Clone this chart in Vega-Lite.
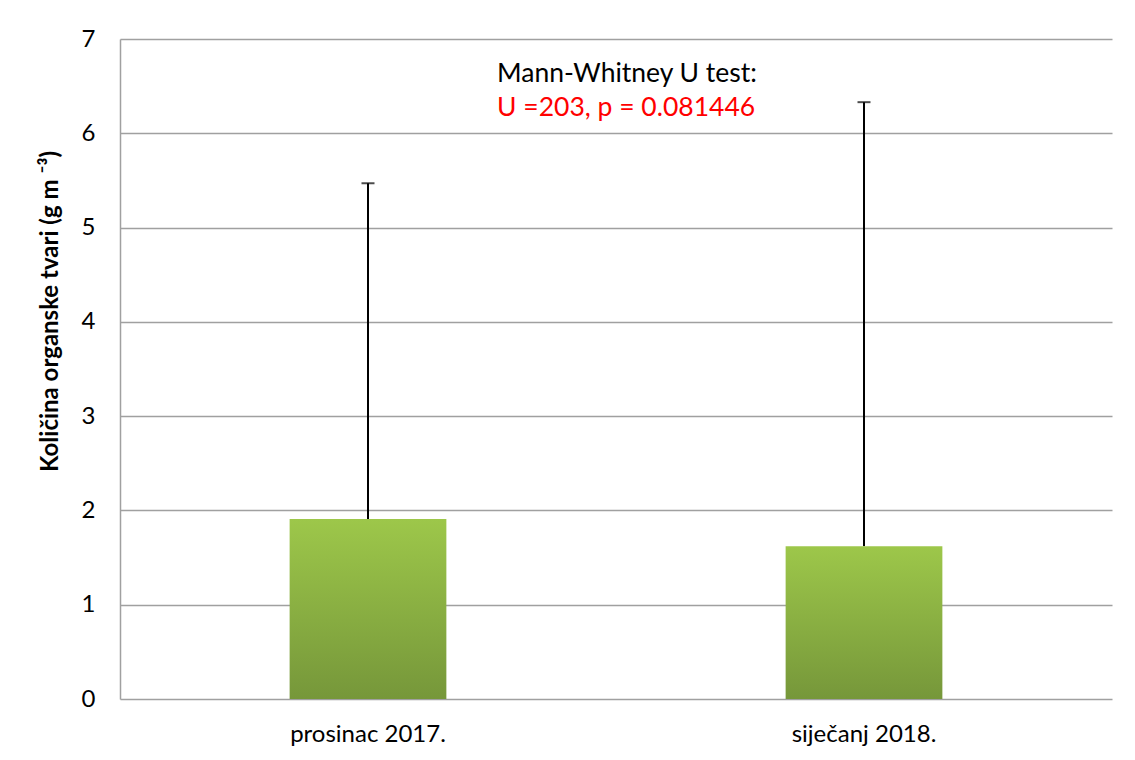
{
  "$schema": "https://vega.github.io/schema/vega-lite/v6.json",
  "width": 992,
  "height": 660,
  "autosize": {"type": "none"},
  "padding": {"left": 120, "top": 39, "right": 23, "bottom": 61},
  "background": "white",
  "config": {
    "font": "Lato",
    "view": {"stroke": null},
    "axis": {"labelFont": "Lato", "titleFont": "Lato"}
  },
  "data": {
    "values": [
      {"month": "prosinac 2017.", "mean": 1.91, "upper": 5.47},
      {"month": "siječanj 2018.", "mean": 1.62, "upper": 6.33}
    ]
  },
  "encoding": {
    "x": {
      "field": "month",
      "type": "nominal",
      "sort": null,
      "scale": {"paddingInner": 0, "paddingOuter": 0},
      "axis": {
        "title": null,
        "labelAngle": 0,
        "labelFontSize": 24,
        "labelColor": "#000000",
        "labelPadding": 23,
        "ticks": false,
        "domain": false
      }
    }
  },
  "layer": [
    {
      "mark": {"type": "rule", "stroke": "#000000", "strokeWidth": 2},
      "encoding": {
        "y": {
          "field": "mean",
          "type": "quantitative",
          "scale": {"domain": [0, 7]},
          "axis": {
            "title": "Količina organske tvari (g m ⁻³)",
            "titleFontSize": 24,
            "titleFontWeight": "bold",
            "titleColor": "#000000",
            "titleAngle": -90,
            "titleX": -70,
            "titleY": 272,
            "titleAlign": "center",
            "titleBaseline": "middle",
            "values": [0, 1, 2, 3, 4, 5, 6, 7],
            "format": "d",
            "labelFontSize": 24,
            "labelColor": "#000000",
            "labelPadding": 25,
            "ticks": false,
            "domainColor": "#A0A0A0",
            "domainWidth": 1.5,
            "grid": true,
            "gridColor": "#A0A0A0",
            "gridWidth": 1.5
          }
        },
        "y2": {"field": "upper"}
      }
    },
    {
      "mark": {"type": "tick", "color": "#000000", "thickness": 2, "size": 13, "orient": "horizontal"},
      "encoding": {
        "y": {"field": "upper", "type": "quantitative"}
      }
    },
    {
      "mark": {
        "type": "bar",
        "width": {"band": 0.316},
        "color": {
          "gradient": "linear",
          "x1": 0, "y1": 0, "x2": 0, "y2": 1,
          "stops": [
            {"offset": 0, "color": "#9DC74A"},
            {"offset": 1, "color": "#76973A"}
          ]
        }
      },
      "encoding": {
        "y": {"field": "mean", "type": "quantitative"}
      }
    },
    {
      "data": {"values": [{"month": "prosinac 2017.", "label": "Mann-Whitney U test:", "pos": 6.546}]},
      "mark": {"type": "text", "align": "left", "baseline": "alphabetic", "dx": 129, "fontSize": 26.5, "color": "#000000"},
      "encoding": {
        "y": {"field": "pos", "type": "quantitative"},
        "text": {"field": "label"}
      }
    },
    {
      "data": {"values": [{"month": "prosinac 2017.", "label": "U =203, p = 0.081446", "pos": 6.18}]},
      "mark": {"type": "text", "align": "left", "baseline": "alphabetic", "dx": 129, "fontSize": 26.5, "color": "#FF0000"},
      "encoding": {
        "y": {"field": "pos", "type": "quantitative"},
        "text": {"field": "label"}
      }
    }
  ]
}
